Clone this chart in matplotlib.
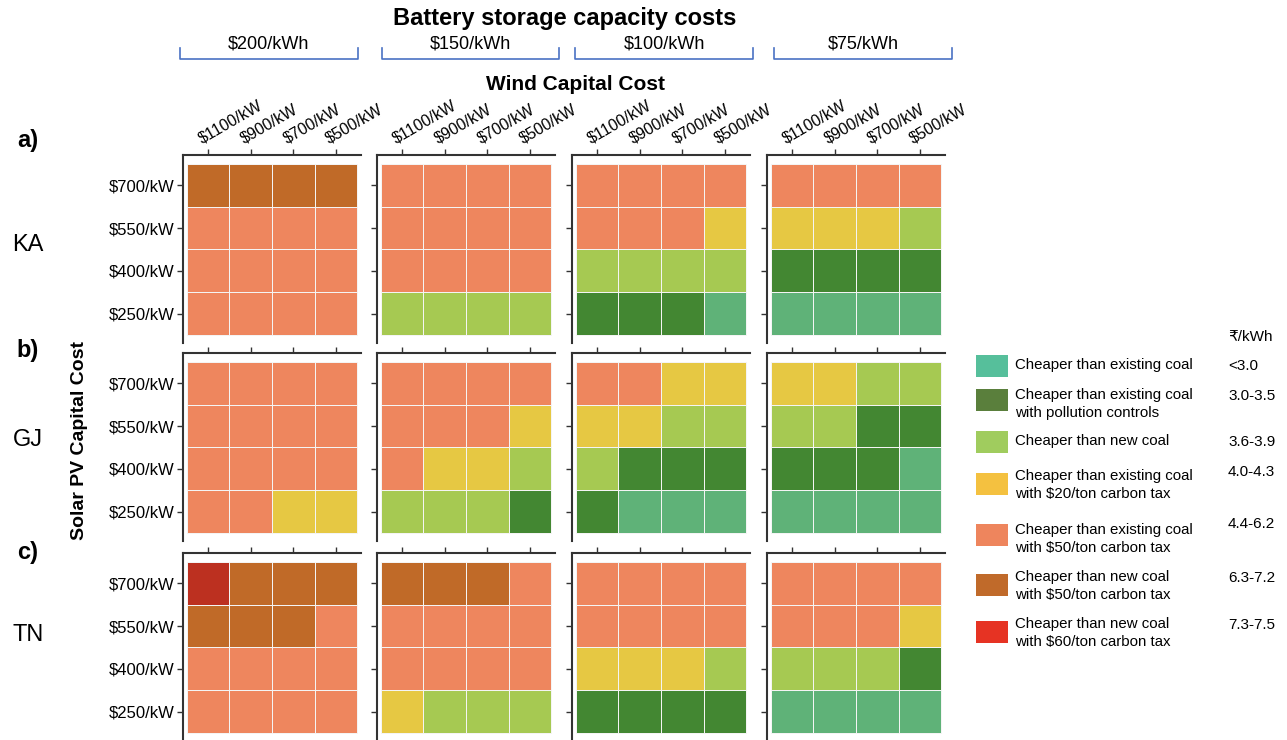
import numpy as np
import matplotlib
matplotlib.use("Agg")
import matplotlib.pyplot as plt
import matplotlib.transforms as mtransforms
from matplotlib.colors import ListedColormap, BoundaryNorm
from matplotlib.patches import Rectangle
from matplotlib.lines import Line2D

plt.rcParams['font.family'] = ['Liberation Sans', 'DejaVu Sans']

# ---------------- data ----------------
batteries = ["$200/kWh", "$150/kWh", "$100/kWh", "$75/kWh"]
wind_costs = ["$1100/kW", "$900/kW", "$700/kW", "$500/kW"]
solar_costs = ["$700/kW", "$550/kW", "$400/kW", "$250/kW"]
states = ["KA", "GJ", "TN"]
panel_tags = ["a)", "b)", "c)"]

# category index: 0 <3.0, 1 3.0-3.5, 2 3.6-3.9, 3 4.0-4.3, 4 4.4-6.2, 5 6.3-7.2, 6 7.3-7.5
# rows: solar $700, $550, $400, $250 ; cols: wind $1100, $900, $700, $500
KA_200 = [[5, 5, 5, 5], [4, 4, 4, 4], [4, 4, 4, 4], [4, 4, 4, 4]]
KA_150 = [[4, 4, 4, 4], [4, 4, 4, 4], [4, 4, 4, 4], [2, 2, 2, 2]]
KA_100 = [[4, 4, 4, 4], [4, 4, 4, 3], [2, 2, 2, 2], [1, 1, 1, 0]]
KA_75 = [[4, 4, 4, 4], [3, 3, 3, 2], [1, 1, 1, 1], [0, 0, 0, 0]]

GJ_200 = [[4, 4, 4, 4], [4, 4, 4, 4], [4, 4, 4, 4], [4, 4, 3, 3]]
GJ_150 = [[4, 4, 4, 4], [4, 4, 4, 3], [4, 3, 3, 2], [2, 2, 2, 1]]
GJ_100 = [[4, 4, 3, 3], [3, 3, 2, 2], [2, 1, 1, 1], [1, 0, 0, 0]]
GJ_75 = [[3, 3, 2, 2], [2, 2, 1, 1], [1, 1, 1, 0], [0, 0, 0, 0]]

TN_200 = [[6, 5, 5, 5], [5, 5, 5, 4], [4, 4, 4, 4], [4, 4, 4, 4]]
TN_150 = [[5, 5, 5, 4], [4, 4, 4, 4], [4, 4, 4, 4], [3, 2, 2, 2]]
TN_100 = [[4, 4, 4, 4], [4, 4, 4, 4], [3, 3, 3, 2], [1, 1, 1, 1]]
TN_75 = [[4, 4, 4, 4], [4, 4, 4, 3], [2, 2, 2, 1], [0, 0, 0, 0]]

grids = [[KA_200, KA_150, KA_100, KA_75],
         [GJ_200, GJ_150, GJ_100, GJ_75],
         [TN_200, TN_150, TN_100, TN_75]]

legend_labels = ["Cheaper than existing coal",
                 "Cheaper than existing coal\nwith pollution controls",
                 "Cheaper than new coal",
                 "Cheaper than existing coal\nwith $20/ton carbon tax",
                 "Cheaper than existing coal\nwith $50/ton carbon tax",
                 "Cheaper than new coal\nwith $50/ton carbon tax",
                 "Cheaper than new coal\nwith $60/ton carbon tax"]
legend_ranges = ["<3.0", "3.0-3.5", "3.6-3.9", "4.0-4.3", "4.4-6.2", "6.3-7.2", "7.3-7.5"]

cell_colors = ["#5fb278", "#438732", "#a6c952", "#e6c843", "#ee865e", "#c06a28", "#bc3020"]
legend_colors = ["#56bf9b", "#5a7f3c", "#a0cc5e", "#f4c140", "#ee855d", "#c06a2a", "#e63323"]

# ---------------- figure ----------------
W, H = 1287, 740
fig = plt.figure(figsize=(W / 100, H / 100), dpi=100)

def fx(x):
    return x / W

def fy(y):
    return 1 - y / H

col_left = [183, 377, 572, 767]
row_top = [155, 353, 553]
ax_w, ax_h = 178, 188

cmap = ListedColormap(cell_colors)
norm = BoundaryNorm(np.arange(-0.5, 7.5, 1), cmap.N)
spine_col = "#333333"
shift = mtransforms.ScaledTranslation(-5 / 100, 0, fig.dpi_scale_trans)

for r in range(3):
    for c in range(4):
        ax = fig.add_axes([fx(col_left[c]), fy(row_top[r] + ax_h), ax_w / W, ax_h / H])
        data = np.array(grids[r][c])
        ax.pcolormesh(np.arange(5) - 0.5, np.arange(5) - 0.5, data, cmap=cmap, norm=norm,
                      edgecolors="#f4f4f4", linewidth=0.7)
        ax.set_xlim(-0.594, 3.594)
        ax.set_ylim(3.69, -0.71)
        for s in ["right", "bottom"]:
            ax.spines[s].set_visible(False)
        for s in ["top", "left"]:
            ax.spines[s].set_color(spine_col)
            ax.spines[s].set_linewidth(1.5)
        ax.xaxis.tick_top()
        ax.set_xticks(range(4))
        ax.set_yticks(range(4))
        ax.tick_params(axis="both", length=4, width=1, color=spine_col, direction="out")
        ax.tick_params(axis="y", pad=2)
        if r == 0:
            ax.set_xticklabels(wind_costs, rotation=30, ha="left", va="bottom",
                               rotation_mode="anchor", fontsize=11.5)
            ax.tick_params(axis="x", pad=2)
            for t in ax.xaxis.get_major_ticks():
                t.label2.set_transform(t.label2.get_transform() + shift)
        else:
            ax.set_xticklabels([])
        if c == 0:
            ax.set_yticklabels(solar_costs, fontsize=12)
        else:
            ax.set_yticklabels([])

# titles
fig.text(fx(565), fy(18), "Battery storage capacity costs", fontsize=17, fontweight="bold",
         ha="center", va="center")
fig.text(fx(575), fy(84), "Wind Capital Cost", fontsize=15, fontweight="bold",
         ha="center", va="center")

# battery brackets
br_x = [(180, 358), (382, 559), (575, 753), (774, 952)]
for (x0, x1), lab in zip(br_x, batteries):
    fig.add_artist(Line2D([fx(x0), fx(x0), fx(x1), fx(x1)], [fy(48), fy(59), fy(59), fy(48)],
                          color="#4a72c4", lw=1.2))
    fig.text(fx((x0 + x1) / 2), fy(44), lab, fontsize=13, ha="center", va="center")

# panel tags and states
for tag, st, ty, sy in zip(panel_tags, states, [141, 350, 552], [245, 440, 635]):
    fig.text(fx(28), fy(ty), tag, fontsize=17, fontweight="bold", ha="center", va="center")
    fig.text(fx(28), fy(sy), st, fontsize=17, ha="center", va="center")

fig.text(fx(80), fy(440), "Solar PV Capital Cost", fontsize=14, fontweight="bold",
         rotation=90, ha="center", va="center")

# legend
patch_cy = [366, 400, 442, 484, 535, 585, 632]
text_y = [366, 396, 442, 477, 531, 578, 625]
range_y = [366, 396, 442, 472, 524, 578, 625]
fig.text(fx(1228), fy(337), "₹/kWh", fontsize=11, ha="left", va="center")
for i in range(7):
    fig.add_artist(Rectangle((fx(976), fy(patch_cy[i] + 11)), 32 / W, 22 / H,
                             facecolor=legend_colors[i], edgecolor="none",
                             transform=fig.transFigure))
    fig.text(fx(1015), fy(text_y[i] - 8), legend_labels[i], fontsize=10.8, ha="left", va="top",
             linespacing=1.38)
    fig.text(fx(1228), fy(range_y[i]), legend_ranges[i], fontsize=11, ha="left", va="center")

fig.savefig("out.png", dpi=100)
